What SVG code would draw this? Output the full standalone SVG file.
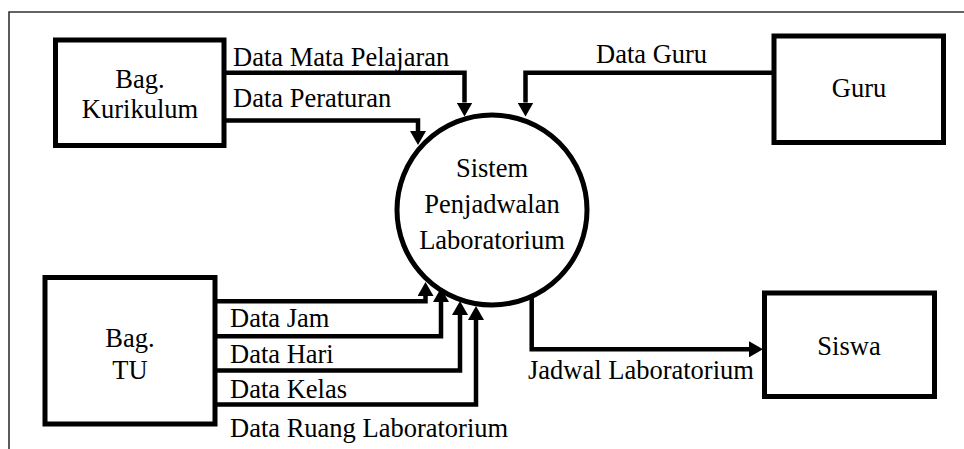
<svg xmlns="http://www.w3.org/2000/svg" width="964" height="449" viewBox="0 0 964 449">
  <style>
    .box { fill: #ffffff; stroke: #000000; stroke-width: 5; }
    .proc { fill: #ffffff; stroke: #000000; stroke-width: 5; }
    .flow { fill: none; stroke: #000000; stroke-width: 4.5; stroke-linejoin: miter; }
    .frame { fill: none; stroke: #333333; stroke-width: 1.6; }
    text { font-family: "Liberation Serif", "Times New Roman", serif; font-size: 26.5px; fill: #000000; }
    .c { text-anchor: middle; }
  </style>
  <defs>
    <marker id="arrow" markerUnits="userSpaceOnUse" viewBox="0 0 14 16" markerWidth="14" markerHeight="16" refX="0" refY="8" orient="auto">
      <path d="M0,0 L14,8 L0,16 Z" fill="#000000"/>
    </marker>
  </defs>

  <rect width="964" height="449" fill="#ffffff"/>

  <!-- page frame: top and left rules -->
  <path class="frame" d="M9,449 V12 H964"/>

  <!-- data flows -->
  <g id="connectors">
    <path class="flow" d="M226,72.7 H464.5 V102.5" marker-end="url(#arrow)"/>
    <path class="flow" d="M226,120.5 H418 V131" marker-end="url(#arrow)"/>
    <path class="flow" d="M772,72.7 H525.5 V102.5" marker-end="url(#arrow)"/>
    <path class="flow" d="M217,301.3 H425.5 V296" marker-end="url(#arrow)"/>
    <path class="flow" d="M217,336.3 H441 V302" marker-end="url(#arrow)"/>
    <path class="flow" d="M217,370.5 H460 V315" marker-end="url(#arrow)"/>
    <path class="flow" d="M217,404.5 H476 V320" marker-end="url(#arrow)"/>
    <path class="flow" d="M531.7,296 V349.3 H749" marker-end="url(#arrow)"/>
    <text x="233" y="66">Data Mata Pelajaran</text>
    <text x="233" y="107">Data Peraturan</text>
    <text x="596" y="63">Data Guru</text>
    <text x="230" y="327">Data Jam</text>
    <text x="230" y="362.5">Data Hari</text>
    <text x="230" y="398">Data Kelas</text>
    <text x="230" y="437">Data Ruang Laboratorium</text>
    <text x="528" y="379">Jadwal Laboratorium</text>
  </g>

  <g id="bag-kurikulum">
    <rect class="box" x="55.5" y="40" width="168.5" height="105.5"/>
    <text class="c" x="140" y="88">Bag.</text>
    <text class="c" x="140" y="118">Kurikulum</text>
  </g>

  <g id="guru">
    <rect class="box" x="774" y="36" width="169.5" height="106.5"/>
    <text class="c" x="859" y="97">Guru</text>
  </g>

  <g id="sistem">
    <circle class="proc" cx="492" cy="210" r="95"/>
    <text class="c" x="492" y="177">Sistem</text>
    <text class="c" x="492" y="213">Penjadwalan</text>
    <text class="c" x="492" y="248.5">Laboratorium</text>
  </g>

  <g id="bag-tu">
    <rect class="box" x="45" y="277.5" width="170" height="146.5"/>
    <text class="c" x="130" y="347">Bag.</text>
    <text class="c" x="130" y="378.5">TU</text>
  </g>

  <g id="siswa">
    <rect class="box" x="764.5" y="293" width="170" height="103.5"/>
    <text class="c" x="849" y="355">Siswa</text>
  </g>
</svg>
